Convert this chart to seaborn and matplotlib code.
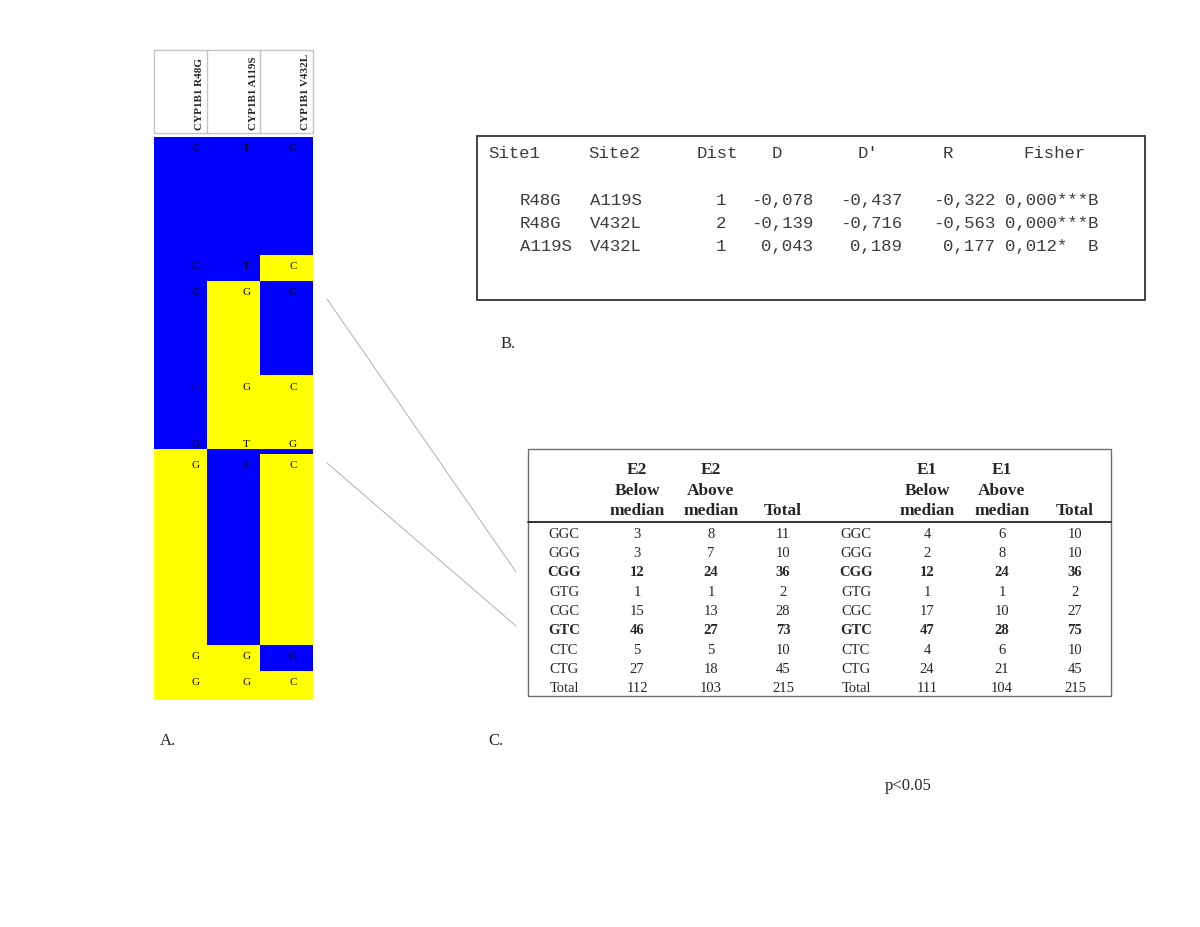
import numpy as np
import matplotlib
matplotlib.use("Agg")
import matplotlib.pyplot as plt
from matplotlib.colors import ListedColormap
from matplotlib.patches import Rectangle
import seaborn as sns

# panel C: haplotype counts by hormone level (below / above median)
haplotypes = ["GGC", "GGG", "CGG", "GTG", "CGC", "GTC", "CTC", "CTG"]
e2_below = [3, 3, 12, 1, 15, 46, 5, 27]
e2_above = [8, 7, 24, 1, 13, 27, 5, 18]
e1_below = [4, 2, 12, 1, 17, 47, 4, 24]
e1_above = [6, 8, 24, 1, 10, 28, 6, 21]
significant = ["CGG", "GTC"]

# panel A: haplotype blocks, row height = number of haplotypes
snps = ["CYP1B1 R48G", "CYP1B1 A119S", "CYP1B1 V432L"]
blue_alleles = ["C", "T", "G"]
hap_order = ["CTG", "CTC", "CGG", "CGC", "GTG", "GTC", "GGG", "GGC"]

# panel B: pairwise linkage disequilibrium
site1 = ["R48G", "R48G", "A119S"]
site2 = ["A119S", "V432L", "V432L"]
dist = [1, 2, 1]
d_vals = [-0.078, -0.139, 0.043]
d_prime = [-0.437, -0.716, 0.189]
r_vals = [-0.322, -0.563, 0.177]
fisher_p = [0.000, 0.000, 0.012]
fisher_stars = ["***", "***", "*"]

sns.set_theme(style="white")
plt.rcParams["font.family"] = ["Liberation Serif", "DejaVu Serif"]
SERIF = "Liberation Serif"
MONO = "Liberation Mono"

e2_total = [a + b for a, b in zip(e2_below, e2_above)]
e1_total = [a + b for a, b in zip(e1_below, e1_above)]


def comma(v):
    return f"{v:.3f}".replace(".", ",")


fig = plt.figure(figsize=(12, 9.27), dpi=100)
bg = fig.add_axes([0, 0, 1, 1])
bg.set_xlim(0, 1200)
bg.set_ylim(927, 0)
bg.axis("off")

# ---- panel A ----
counts = dict(zip(haplotypes, e2_total))
rows = []
for h in hap_order:
    code = [0 if h[j] == blue_alleles[j] else 1 for j in range(3)]
    rows += [code] * counts[h]
mat = np.array(rows)

ax_a = fig.add_axes([154 / 1200, 1 - 700 / 927, 159 / 1200, 563 / 927])
sns.heatmap(mat, ax=ax_a, cmap=ListedColormap(["#0000ff", "#ffff00"]),
            vmin=0, vmax=1, cbar=False, xticklabels=False, yticklabels=False)
ax_a.set_xlabel("")
ax_a.set_ylabel("")

letter_dx = [0.78, 0.74, 0.62]
top = 0
for h in hap_order:
    n = counts[h]
    # thin rows get their letters just above the block
    dy = 4.5 if n > 4 else -1.5
    for j in range(3):
        ax_a.text(j + letter_dx[j], top + dy, h[j], ha="center",
                  va="center", fontsize=8, family=SERIF, color="black")
    top += n

# header box with rotated SNP names
bg.add_patch(Rectangle((154, 50), 159, 83, fill=False, ec="#c4c4c4", lw=1))
for j, name in enumerate(snps):
    x0 = 154 + j * 53
    if j > 0:
        bg.plot([x0, x0], [50, 133], color="#c4c4c4", lw=1)
    bg.text(x0 + 46, 130, name, rotation=90, ha="center", va="bottom",
            fontsize=8, fontweight="bold", family=SERIF)

bg.text(160, 741, "A.", fontsize=12, family=SERIF, va="center")

# zoom lines from panel A to panel C
bg.plot([327, 516], [299, 572], color="#b8b8b8", lw=0.8)
bg.plot([327, 516], [463, 626], color="#b8b8b8", lw=0.8)

# ---- panel B ----
bg.add_patch(Rectangle((477, 136), 668, 164, fill=False, ec="#333333", lw=1.3))
mono = dict(family=MONO, fontsize=12.5, color="#3c3c3c", va="center")
hdr_y = 153
bg.text(488, hdr_y, "Site1", ha="left", **mono)
bg.text(588, hdr_y, "Site2", ha="left", **mono)
bg.text(697, hdr_y, "Dist", ha="left", **mono)
bg.text(777, hdr_y, "D", ha="center", **mono)
bg.text(868, hdr_y, "D'", ha="center", **mono)
bg.text(948, hdr_y, "R", ha="center", **mono)
bg.text(1023, hdr_y, "Fisher", ha="left", **mono)
for i in range(len(site1)):
    y = 200 + i * 23
    bg.text(520, y, site1[i], ha="left", **mono)
    bg.text(590, y, site2[i], ha="left", **mono)
    bg.text(726, y, str(dist[i]), ha="right", **mono)
    bg.text(813, y, comma(d_vals[i]), ha="right", **mono)
    bg.text(902, y, comma(d_prime[i]), ha="right", **mono)
    bg.text(995, y, comma(r_vals[i]), ha="right", **mono)
    bg.text(1005, y, f"{comma(fisher_p[i])}{fisher_stars[i]:<3}B", ha="left", **mono)

bg.text(501, 344, "B.", fontsize=12, family=SERIF, va="center")

# ---- panel C ----
bg.add_patch(Rectangle((528, 449), 583, 247, fill=False, ec="#6e6e6e", lw=1))
bg.plot([528, 1111], [522, 522], color="#222222", lw=1.3)

blocks = [
    ("E2", [564, 637, 711, 783], e2_below, e2_above, e2_total),
    ("E1", [856, 927, 1002, 1075], e1_below, e1_above, e1_total),
]
hdr = dict(family=SERIF, fontsize=12.5, fontweight="bold", ha="center", va="center")
cell = dict(family=SERIF, fontsize=10.5, ha="center", va="center")
for tag, xs, below, above, total in blocks:
    bg.text(xs[1], 470, tag, **hdr)
    bg.text(xs[1], 491, "Below", **hdr)
    bg.text(xs[1], 511, "median", **hdr)
    bg.text(xs[2], 470, tag, **hdr)
    bg.text(xs[2], 491, "Above", **hdr)
    bg.text(xs[2], 511, "median", **hdr)
    bg.text(xs[3], 511, "Total", **hdr)
    for i, h in enumerate(haplotypes):
        y = 534 + i * 19.35
        w = "bold" if h in significant else "normal"
        for x, v in zip(xs, [h, below[i], above[i], total[i]]):
            bg.text(x, y, str(v), fontweight=w, **cell)
    y = 534 + len(haplotypes) * 19.35
    for x, v in zip(xs, ["Total", sum(below), sum(above), sum(total)]):
        bg.text(x, y, str(v), **cell)

bg.text(488, 741, "C.", fontsize=12, family=SERIF, va="center")
bg.text(908, 786, "p<0.05", fontsize=12, family=SERIF, ha="center", va="center")

fig.savefig("out.png", dpi=100, facecolor="white")
